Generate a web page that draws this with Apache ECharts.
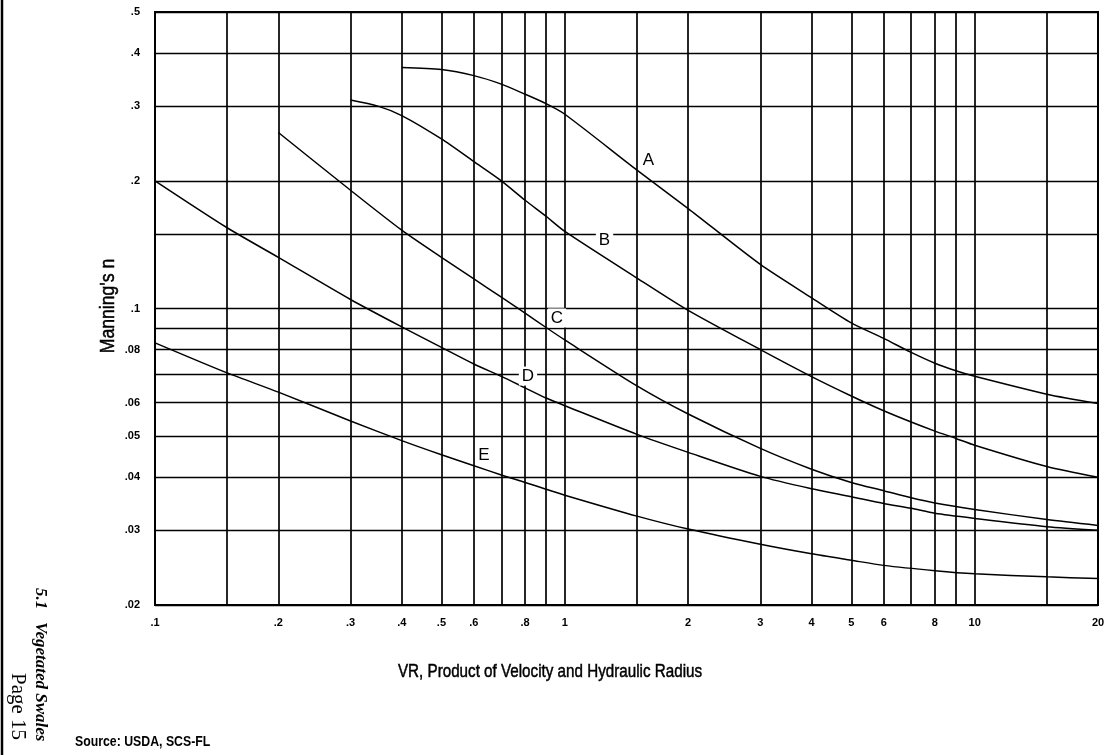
<!DOCTYPE html>
<html>
<head>
<meta charset="utf-8">
<script src="https://cdn.jsdelivr.net/npm/echarts@6/dist/echarts.min.js"></script>
<style>
  html, body { margin: 0; padding: 0; background: #fff; }
  #chart { width: 1110px; height: 755px; }
</style>
</head>
<body>
<div id="chart"></div>
<script>
// axis labels and grid lines (both axes are log)
const xLabels = [0.1, 0.2, 0.3, 0.4, 0.5, 0.6, 0.8, 1, 2, 3, 4, 5, 6, 8, 10, 20]
const xGrid = [0.1, 0.15, 0.2, 0.3, 0.4, 0.5, 0.6, 0.7, 0.8, 0.9, 1, 1.5, 2, 3, 4, 5, 6, 7, 8, 9, 10, 15, 20]
const yLabels = [0.02, 0.03, 0.04, 0.05, 0.06, 0.08, 0.1, 0.2, 0.3, 0.4, 0.5]
const yGrid = [0.02, 0.03, 0.04, 0.05, 0.06, 0.07, 0.08, 0.09, 0.1, 0.15, 0.2, 0.3, 0.4, 0.5]

// retardance curves: VR value -> Manning's n
const vrA = [0.4, 0.5, 0.6, 0.7, 0.8, 0.9, 1, 1.5, 2, 3, 4, 5, 6, 7, 8, 9, 10, 15, 20]
const nA = [0.37, 0.366, 0.354, 0.338, 0.32, 0.304, 0.287, 0.212, 0.172, 0.127, 0.106, 0.0925, 0.085, 0.0788, 0.0743, 0.0713, 0.0692, 0.0628, 0.0597]

const vrB = [0.3, 0.35, 0.4, 0.5, 0.6, 0.7, 0.8, 0.9, 1, 1.5, 2, 3, 4, 5, 6, 7, 8, 9, 10, 15, 20]
const nB = [0.31, 0.30, 0.285, 0.251, 0.222, 0.2, 0.18, 0.165, 0.152, 0.118, 0.099, 0.08, 0.0691, 0.0622, 0.0574, 0.054, 0.0514, 0.0494, 0.0476, 0.0424, 0.04]

const vrC = [0.2, 0.3, 0.4, 0.5, 0.6, 0.7, 0.8, 0.9, 1, 1.5, 2, 3, 4, 5, 6, 7, 8, 10, 15, 20]
const nC = [0.26, 0.19, 0.153, 0.132, 0.1175, 0.1063, 0.0975, 0.0902, 0.0843, 0.0657, 0.0564, 0.0468, 0.0418, 0.0389, 0.0372, 0.0358, 0.0348, 0.0336, 0.0318, 0.0308]

const vrD = [0.1, 0.15, 0.2, 0.3, 0.4, 0.5, 0.6, 0.7, 0.8, 0.9, 1, 1.5, 2, 3, 4, 5, 6, 7, 8, 10, 15, 20]
const nD = [0.2, 0.155, 0.132, 0.105, 0.0905, 0.081, 0.074, 0.0692, 0.065, 0.0615, 0.059, 0.0505, 0.0458, 0.0402, 0.0376, 0.036, 0.0347, 0.0338, 0.0329, 0.032, 0.0306, 0.030]

const vrE = [0.1, 0.15, 0.2, 0.3, 0.4, 0.5, 0.6, 0.7, 0.8, 0.9, 1, 1.5, 2, 3, 4, 5, 6, 8, 10, 15, 20]
const nE = [0.083, 0.0705, 0.0635, 0.0543, 0.0488, 0.0452, 0.0426, 0.0405, 0.0389, 0.0375, 0.0363, 0.0324, 0.0302, 0.0278, 0.0264, 0.0255, 0.0248, 0.0241, 0.0237, 0.0233, 0.0231]

function zip(xs, ys) {
  return xs.map((x, i) => [x, ys[i]])
}

// .1 / .02 style labels like the original chart paper
function tickFmt(v) {
  return String(+v.toPrecision(3)).replace(/^0\./, '.')
}

const chart = echarts.init(document.getElementById('chart'))

const curveLabel = {
  show: true,
  fontFamily: 'Liberation Sans',
  fontSize: 17,
  color: '#000',
  backgroundColor: '#fff',
  padding: [1, 3]
}

function curve(name, xs, ys, labelAt) {
  return {
    name: name,
    type: 'line',
    data: zip(xs, ys),
    showSymbol: false,
    smooth: 0.25,
    lineStyle: { color: '#000', width: 1.5 },
    z: 3,
    markPoint: {
      symbol: 'rect',
      symbolSize: 1,
      itemStyle: { color: 'transparent' },
      label: Object.assign({ formatter: name }, curveLabel),
      data: [{ coord: labelAt }]
    }
  }
}

const titleFont = 'Liberation Sans, Arial, sans-serif'

chart.setOption({
  animation: false,
  backgroundColor: '#fff',
  grid: {
    left: 155,
    right: 12,
    top: 12,
    bottom: 150,
    show: true,
    borderColor: '#000',
    borderWidth: 2
  },
  xAxis: {
    type: 'log',
    logBase: 10,
    min: 0.1,
    max: 20,
    axisLine: { show: true, lineStyle: { color: '#000', width: 2 } },
    axisTick: { show: false, customValues: xGrid },
    splitLine: { show: true, lineStyle: { color: '#000', width: 1.7 } },
    minorTick: { show: false },
    minorSplitLine: { show: false },
    axisLabel: {
      customValues: xLabels,
      formatter: tickFmt,
      color: '#000',
      fontFamily: 'Liberation Sans',
      fontWeight: 'bold',
      fontSize: 11,
      margin: 12
    }
  },
  yAxis: {
    type: 'log',
    logBase: 10,
    min: 0.02,
    max: 0.5,
    axisLine: { show: true, lineStyle: { color: '#000', width: 2 } },
    axisTick: { show: false, customValues: yGrid },
    splitLine: { show: true, lineStyle: { color: '#000', width: 1.4 } },
    minorTick: { show: false },
    minorSplitLine: { show: false },
    axisLabel: {
      customValues: yLabels,
      formatter: tickFmt,
      color: '#000',
      fontFamily: 'Liberation Sans',
      fontWeight: 'bold',
      fontSize: 11,
      margin: 15
    }
  },
  series: [
    curve('A', vrA, nA, [1.6, 0.224]),
    curve('B', vrB, nB, [1.25, 0.145]),
    curve('C', vrC, nC, [0.957, 0.095]),
    curve('D', vrD, nD, [0.813, 0.0693]),
    curve('E', vrE, nE, [0.635, 0.045])
  ],
  graphic: [
    {
      type: 'line',
      shape: { x1: 2, y1: 0, x2: 2, y2: 755 },
      style: { stroke: '#000', lineWidth: 2.5 }
    },
    {
      type: 'text',
      x: 108,
      y: 306,
      rotation: Math.PI / 2,
      scaleX: 0.88,
      style: {
        text: "Manning's n",
        fontFamily: titleFont,
        fontSize: 20,
        fill: '#000',
        stroke: '#000',
        lineWidth: 0.5,
        align: 'center',
        verticalAlign: 'middle'
      }
    },
    {
      type: 'text',
      x: 550,
      y: 672,
      scaleX: 0.8,
      style: {
        text: 'VR, Product of Velocity and Hydraulic Radius',
        fontFamily: titleFont,
        fontSize: 19,
        fill: '#000',
        stroke: '#000',
        lineWidth: 0.5,
        align: 'center',
        verticalAlign: 'middle'
      }
    },
    {
      type: 'text',
      x: 75,
      y: 742,
      scaleX: 0.82,
      style: {
        text: 'Source: USDA, SCS-FL',
        fontFamily: titleFont,
        fontWeight: 'bold',
        fontSize: 15,
        fill: '#000',
        align: 'left',
        verticalAlign: 'middle'
      }
    },
    {
      type: 'text',
      x: 40,
      y: 588,
      rotation: -Math.PI / 2,
      style: {
        text: '5.1   Vegetated Swales',
        fontFamily: 'Liberation Serif, serif',
        fontWeight: 'bold',
        fontStyle: 'italic',
        fontSize: 17,
        fill: '#000',
        align: 'left',
        verticalAlign: 'middle'
      }
    },
    {
      type: 'text',
      x: 18,
      y: 673,
      rotation: -Math.PI / 2,
      style: {
        text: 'Page 15',
        fontFamily: 'Liberation Serif, serif',
        fontSize: 21,
        fill: '#000',
        align: 'left',
        verticalAlign: 'middle'
      }
    }
  ]
})
</script>
</body>
</html>
